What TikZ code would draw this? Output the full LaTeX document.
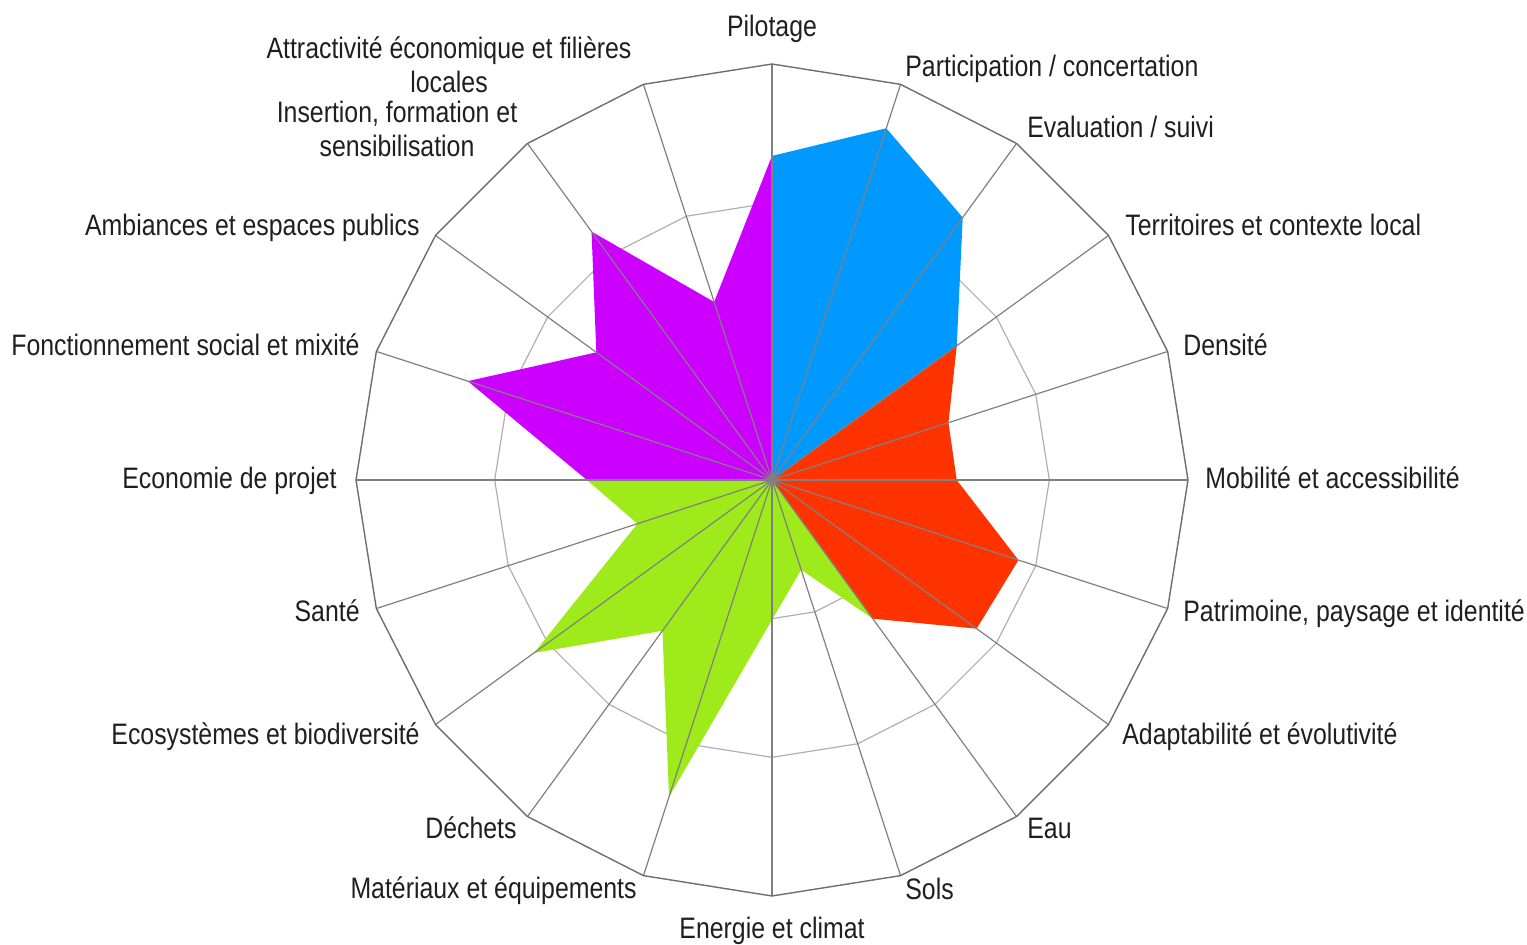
\documentclass[tikz,border=0pt]{standalone}
\usepackage{fontspec}
\setmainfont{Liberation Sans}[FakeStretch=0.84]
\definecolor{serblue}{RGB}{0,153,255}
\definecolor{serred}{RGB}{255,51,0}
\definecolor{sergreen}{RGB}{158,234,26}
\definecolor{serpurple}{RGB}{204,0,255}
\definecolor{gridout}{RGB}{110,110,110}
\definecolor{gridspoke}{RGB}{128,128,128}
\definecolor{gridring}{RGB}{175,175,175}
\begin{document}
\begin{tikzpicture}[x=0.5pt,y=-0.5pt,
  lbl/.style={font=\fontsize{14.8}{17.5}\selectfont, inner sep=0pt, text=black!88},
  lblw/.style={lbl, anchor=base west},
  lble/.style={lbl, anchor=base east},
  lblc/.style={lbl, anchor=base},
  ringline/.style={draw=gridring, line width=0.6pt},
  spokeline/.style={draw=gridspoke, line width=0.6pt},
  outerline/.style={draw=gridout, line width=0.7pt}]
\useasboundingbox (0,0) rectangle (1527,945);
\def\cx{772}\def\cy{480}\def\R{416}
\coordinate (C) at (\cx,\cy);
\foreach \i in {0,...,19}{
  \coordinate (o\i) at ({\cx+\R*cos(90-18*\i)},{\cy-\R*sin(90-18*\i)});
  \coordinate (a\i) at ({\cx+\R/3*cos(90-18*\i)},{\cy-\R/3*sin(90-18*\i)});
  \coordinate (b\i) at ({\cx+2*\R/3*cos(90-18*\i)},{\cy-2*\R/3*sin(90-18*\i)});
}
\foreach \v [count=\i from 0] in {0.779,0.889,0.780,0.549,0.446,0.444,0.623,0.608,0.412,0.227,0.336,0.801,0.448,0.707,0.340,0.445,0.769,0.522,0.738,0.450}{
  \coordinate (p\i) at ({\cx+\v*\R*cos(90-18*\i)},{\cy-\v*\R*sin(90-18*\i)});
}
% inner rings
\draw[ringline] (a0) \foreach \i in {1,...,19}{ -- (a\i)} -- cycle;
\draw[ringline] (b0) \foreach \i in {1,...,19}{ -- (b\i)} -- cycle;
% series areas
\fill[serblue] (C) -- (p0) -- (p1) -- (p2) -- (p3) -- cycle;
\fill[serred] (C) -- (p3) -- (p4) -- (p5) -- (p6) -- (p7) -- (p8) -- cycle;
\fill[sergreen] (C) -- (p8) -- (p9) -- (p10) -- (p11) -- (p12) -- (p13) -- (p14) -- (p15) -- cycle;
\fill[serpurple] (C) -- (p15) -- (p16) -- (p17) -- (p18) -- (p19) -- (p0) -- cycle;
% spokes
\foreach \i in {0,...,19}{ \draw[spokeline] (C) -- (o\i); }
% outer polygon
\draw[outerline] (o0) \foreach \i in {1,...,19}{ -- (o\i)} -- cycle;
% labels
\node[lblc] (l0) at (772,37) {Pilotage};
\node[lblw] (l1) at (905,77) {Participation / concertation};
\node[lblw] (l2) at (1027,138) {Evaluation / suivi};
\node[lblw] (l3) at (1125,236) {Territoires et contexte local};
\node[lblw] (l4) at (1183,356) {Densité};
\node[lblw] (l5) at (1205,489) {Mobilité et accessibilité};
\node[lblw] (l6) at (1183,622) {Patrimoine, paysage et identité};
\node[lblw] (l7) at (1122,745) {Adaptabilité et évolutivité};
\node[lblw] (l8) at (1027,839) {Eau};
\node[lblw] (l9) at (905,900) {Sols};
\node[lblc] (l10) at (772,939) {Energie et climat};
\node[lble] (l11) at (637,899) {Matériaux et équipements};
\node[lble] (l12) at (517,839) {Déchets};
\node[lble] (l13) at (420,745) {Ecosystèmes et biodiversité};
\node[lble] (l14) at (360,622) {Santé};
\node[lble] (l15) at (337,489) {Economie de projet};
\node[lble] (l16) at (360,356) {Fonctionnement social et mixité};
\node[lble] (l17) at (420,236) {Ambiances et espaces publics};
\node[lblc] (l18a) at (397,123) {Insertion, formation et};
\node[lblc] (l18b) at (397,157) {sensibilisation};
\node[lblc] (l19a) at (449,59) {Attractivité économique et filières};
\node[lblc] (l19b) at (449,93) {locales};
\end{tikzpicture}
\end{document}
